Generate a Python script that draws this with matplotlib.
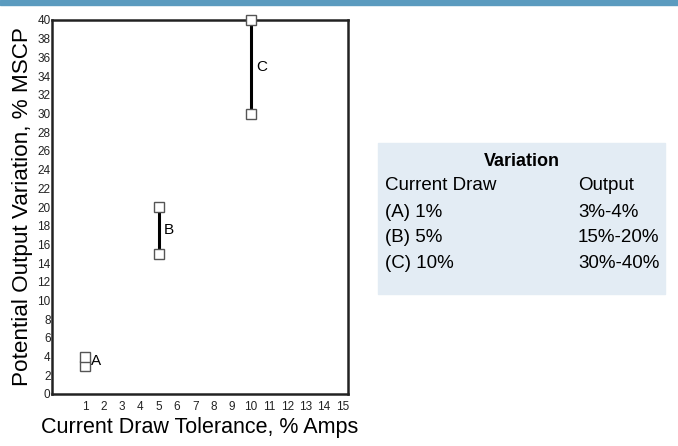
import matplotlib.pyplot as plt
from matplotlib.patches import Rectangle

# data
labels = ["A", "B", "C"]
draw = [1, 5, 10]
low = [3, 15, 30]
high = [4, 20, 40]
xticks = list(range(1, 16))
yticks = list(range(0, 41, 2))
table_rows = [("(A) 1%", "3%-4%"), ("(B) 5%", "15%-20%"), ("(C) 10%", "30%-40%")]

plt.rcParams['font.family'] = ['Liberation Sans', 'DejaVu Sans']

W, H = 678, 446
fig = plt.figure(figsize=(W / 100, H / 100), dpi=100)
fig.patches.append(Rectangle((0, 1 - 5 / H), 1, 5 / H, transform=fig.transFigure,
                             color='#5b9bbf', zorder=0))

ax = fig.add_axes([52 / W, 1 - 394 / H, (348 - 52) / W, (394 - 20) / H])
ax.set_xlim(-0.8, 15.3)
ax.set_ylim(0, 40)
ax.set_xticks(xticks)
ax.set_yticks(yticks)
ax.tick_params(length=0, labelsize=8.5, colors='#222222')
ax.tick_params(axis='x', pad=5)
ax.tick_params(axis='y', pad=1)
for s in ax.spines.values():
    s.set_linewidth(1.8)
    s.set_color('#222222')

for i in range(len(labels)):
    ax.plot([draw[i], draw[i]], [low[i], high[i]], color='black', lw=2.2, zorder=2)
    ax.plot([draw[i], draw[i]], [low[i], high[i]], ls='none', marker='s', ms=7.5,
            mfc='white', mec='#555555', mew=1.0, clip_on=False, zorder=3)
    ax.text(draw[i] + 0.3, (low[i] + high[i]) / 2, labels[i], fontsize=11,
            ha='left', va='center')

ax.set_xlabel("Current Draw Tolerance, % Amps", fontsize=15.5, labelpad=3)
ax.set_ylabel("Potential Output Variation, % MSCP", fontsize=16.2, labelpad=3)

# side table
fig.patches.append(Rectangle((378 / W, 1 - 294 / H), (665 - 378) / W, (294 - 143) / H,
                             transform=fig.transFigure, color='#e3ecf4', zorder=0))
fig.text(522 / W, 1 - 162 / H, "Variation", fontsize=13, fontweight='bold',
         ha='center', va='center')
fig.text(385 / W, 1 - 186 / H, "Current Draw", fontsize=13.5, va='center')
fig.text(578 / W, 1 - 186 / H, "Output", fontsize=13.5, va='center')
for j, (a, b) in enumerate(table_rows):
    y = 1 - (213 + 25 * j) / H
    fig.text(385 / W, y, a, fontsize=13.5, va='center')
    fig.text(578 / W, y, b, fontsize=13.5, va='center')

fig.savefig("out.png", dpi=100)
